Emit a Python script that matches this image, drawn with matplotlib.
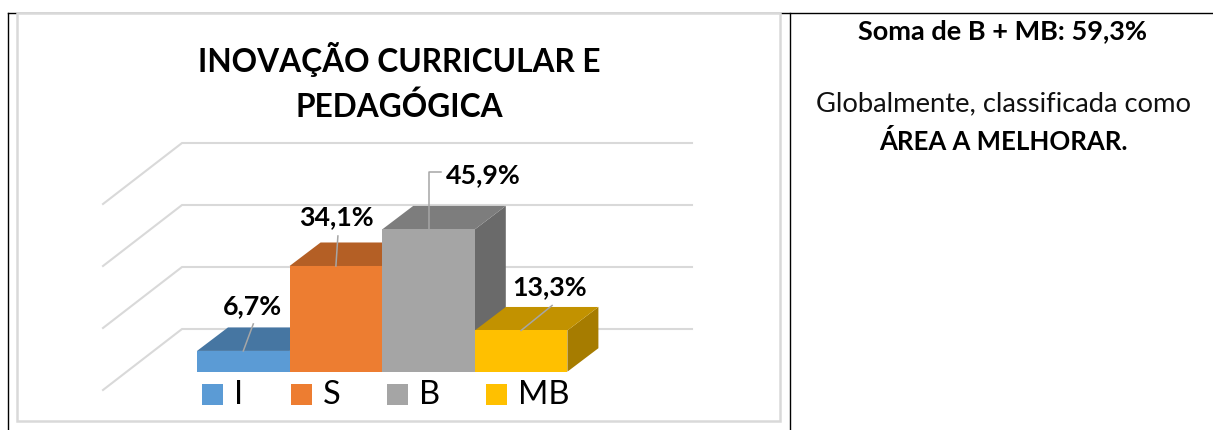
import matplotlib
matplotlib.use("Agg")
import matplotlib.pyplot as plt
from matplotlib.patches import Polygon, Rectangle

plt.rcParams["font.family"] = ["Lato", "DejaVu Sans"]

# data
categories = ["I", "S", "B", "MB"]
values = [6.7, 34.1, 45.9, 13.3]
labels = ["6,7%", "34,1%", "45,9%", "13,3%"]
grid_values = [0, 20, 40, 60]
title = "INOVAÇÃO CURRICULAR E\nPEDAGÓGICA"

front_colors = ["#5b9bd5", "#ed7d31", "#a5a5a5", "#ffc000"]
top_colors = ["#4676a2", "#b45f25", "#7d7d7d", "#c29200"]
side_colors = ["#38608a", "#8f4b1d", "#6a6a6a", "#a67c00"]

# pixel layout of the fake 3d plot
PX_PER_PCT = 3.1
FLOOR_FRONT = 390
FLOOR_BACK = 329
WALL_LEFT = 103
WALL_BACK = 182
WALL_RIGHT = 692
BAR_LEFT = 197
BAR_W = 92.6
BAR_BASE = 371.7
DX, DY = 31, -23.5

fig = plt.figure(figsize=(12.13, 4.3), dpi=100)
ax = fig.add_axes([0, 0, 1, 1])
ax.set_xlim(0, 1213)
ax.set_ylim(430, 0)
ax.axis("off")

# table lines + chart frame
ax.plot([7.5, 7.5], [430, 12.5], color="black", lw=1.0)
ax.plot([7.5, 1213], [12.5, 12.5], color="black", lw=1.0)
ax.plot([790, 790], [12.5, 430], color="black", lw=1.0)
ax.add_patch(Rectangle((17, 12.5), 763, 408.5, fc="white", ec="#d9d9d9", lw=1.8, zorder=2))

# gridlines
for g in grid_values:
    yf = FLOOR_FRONT - g * PX_PER_PCT
    yb = FLOOR_BACK - g * PX_PER_PCT
    ax.plot([WALL_LEFT, WALL_BACK, WALL_RIGHT], [yf, yb, yb], color="#d9d9d9", lw=1.5, zorder=3)

# bars
for i, v in enumerate(values):
    x0 = BAR_LEFT + i * BAR_W
    x1 = x0 + BAR_W
    top = BAR_BASE - v * PX_PER_PCT
    ax.add_patch(Polygon([(x1, BAR_BASE), (x1 + DX, BAR_BASE + DY), (x1 + DX, top + DY), (x1, top)],
                         fc=side_colors[i], ec="none", zorder=4))
    ax.add_patch(Polygon([(x0, top), (x0 + DX, top + DY), (x1 + DX, top + DY), (x1, top)],
                         fc=top_colors[i], ec="none", zorder=4))
    ax.add_patch(Rectangle((x0, top), BAR_W, BAR_BASE - top, fc=front_colors[i], ec="none", zorder=4))

# leader lines, offsets from the middle of each bar's top edge
leaders = [[(0, 0), (10, -27)], [(0, 0), (2, -30)], [(0, 0), (0, -57), (12, -57)], [(0, 0), (31, -25)]]
label_off = [(9, -45), (1, -49), (55, -54), (28.5, -43)]
for i, v in enumerate(values):
    cx = BAR_LEFT + (i + 0.5) * BAR_W
    top = BAR_BASE - v * PX_PER_PCT
    ax.plot([cx + p[0] for p in leaders[i]], [top + p[1] for p in leaders[i]],
            color="#a6a6a6", lw=1.1, zorder=5)
    ax.text(cx + label_off[i][0], top + label_off[i][1], labels[i], fontsize=19.3,
            fontweight="bold", ha="center", va="center", color="black", zorder=6)

# legend
swatch_x = [202, 291, 387, 486]
for i, c in enumerate(categories):
    ax.add_patch(Rectangle((swatch_x[i], 384), 21, 21, fc=front_colors[i], ec="none", zorder=5))
    ax.text(swatch_x[i] + 32, 395, c, fontsize=23.5, ha="left", va="center", color="black", zorder=6)

ax.text(399, 82, title, fontsize=22.8, fontweight="bold", ha="center", va="center",
        linespacing=1.58, color="black", zorder=6)

# right column
ax.text(1003, 31, "Soma de B + MB: 59,3%", fontsize=19.5, fontweight="bold", ha="center", va="center")
ax.text(1003, 104, "Globalmente, classificada como", fontsize=19.7, ha="center", va="center", color="#111111")
ax.text(1003, 141, "ÁREA A MELHORAR.", fontsize=18.5, fontweight="bold", ha="center", va="center")

fig.savefig("out.png", dpi=100)
